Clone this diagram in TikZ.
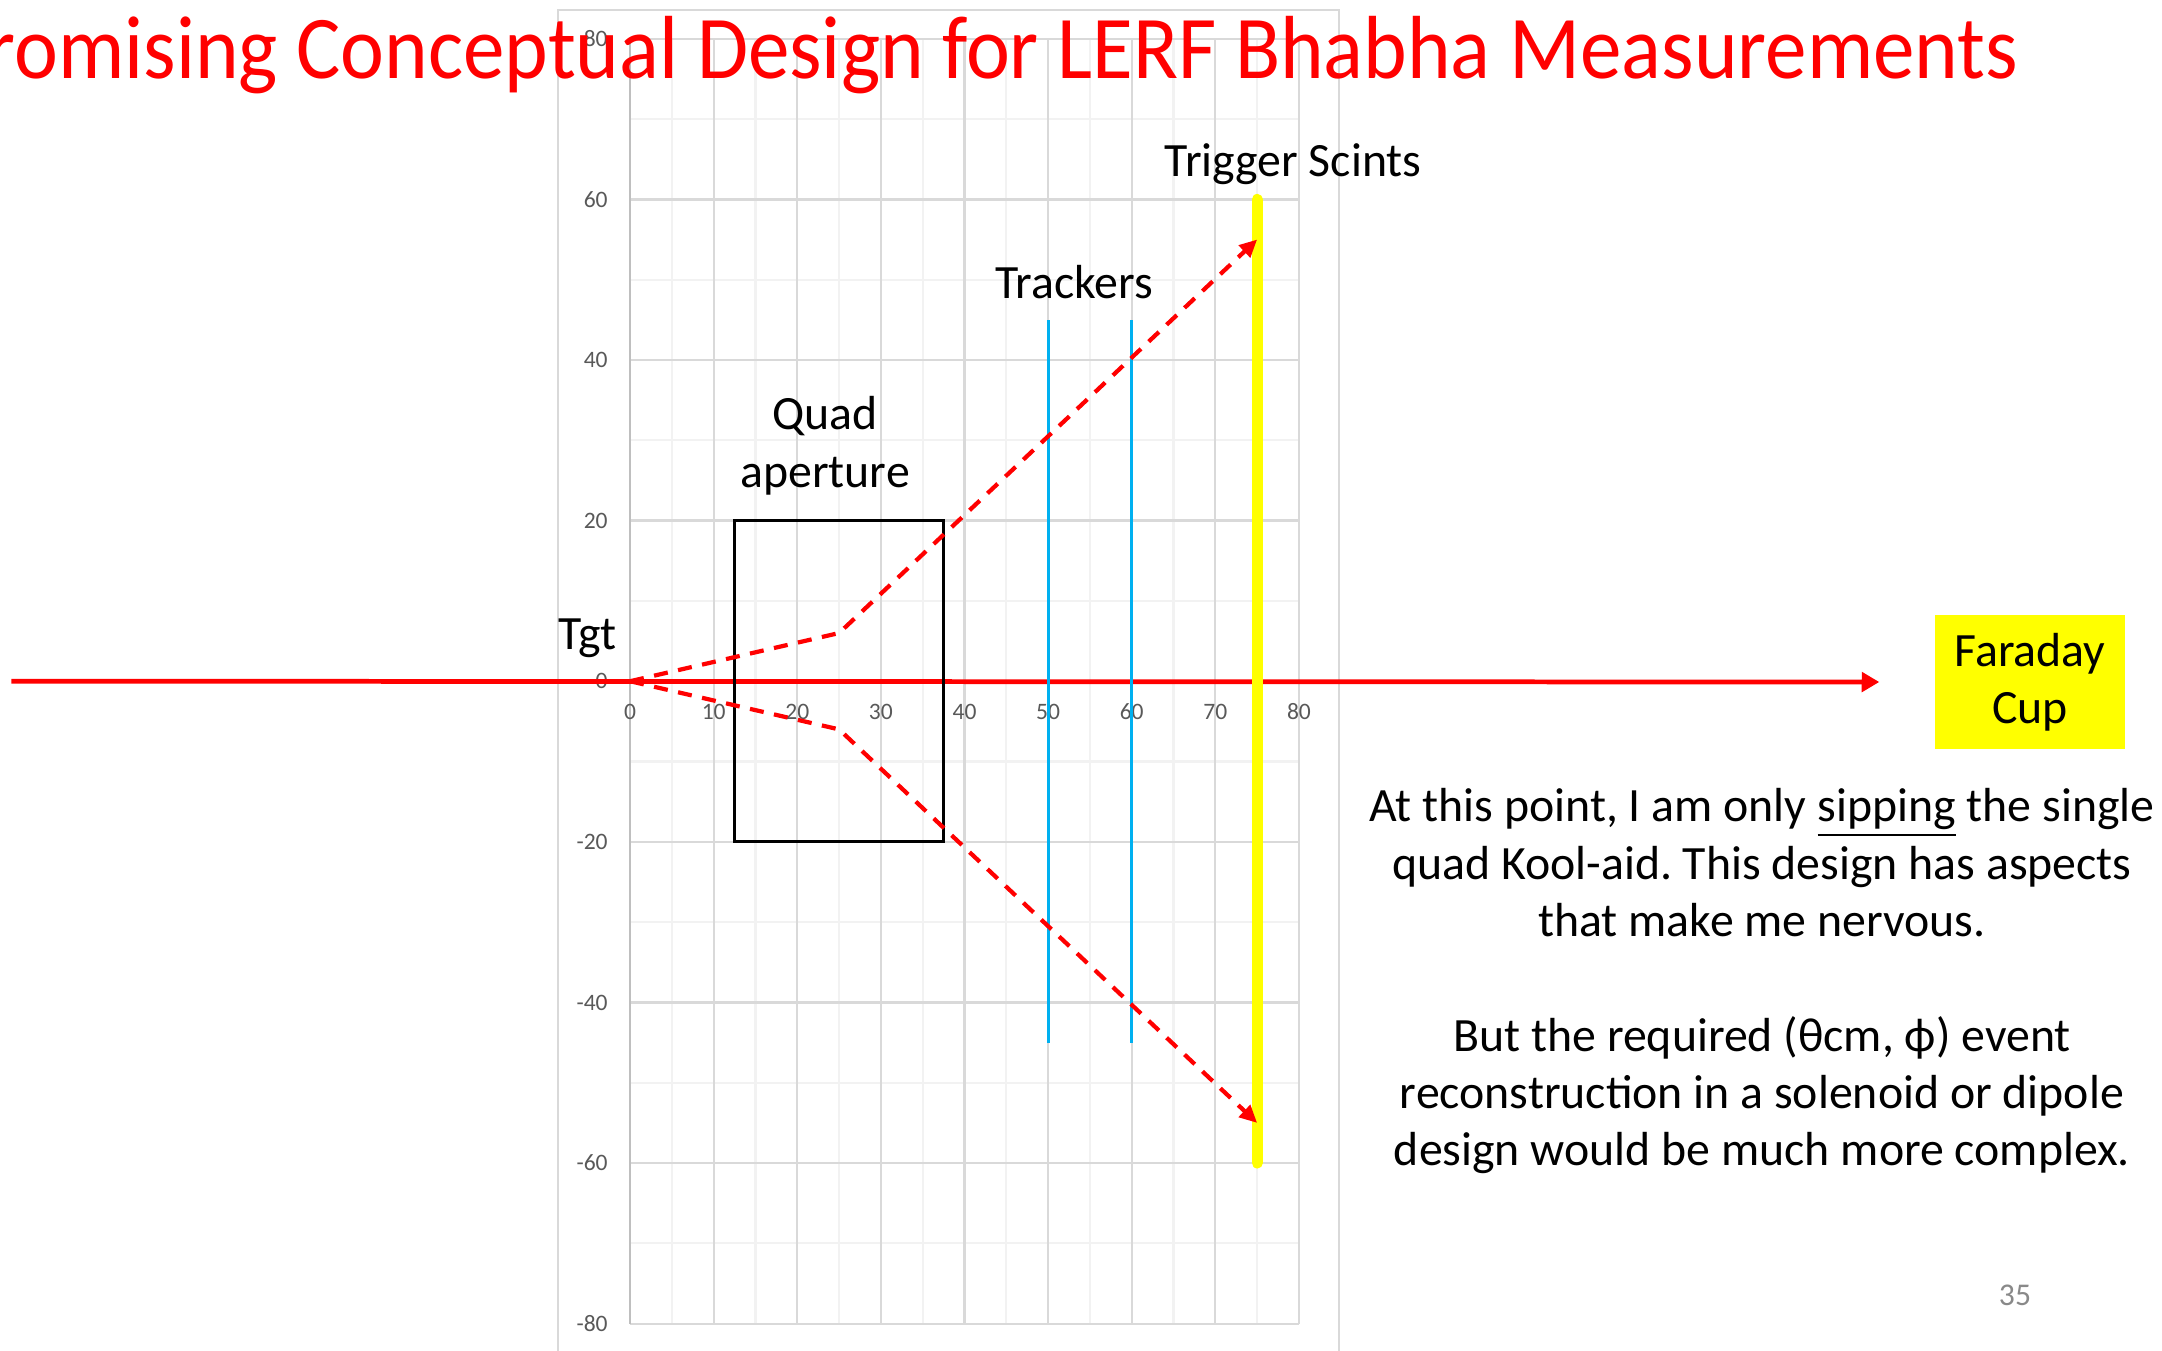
\documentclass[tikz,border=0pt]{standalone}
\usepackage{fontspec}
\setmainfont{Carlito}
\usetikzlibrary{arrows.meta,positioning}

\definecolor{pptred}{HTML}{FF0000}
\definecolor{pptyellow}{HTML}{FFFF00}
\definecolor{trkblue}{HTML}{00B0F0}
\definecolor{gridmaj}{HTML}{D9D9D9}
\definecolor{gridmin}{HTML}{F2F2F2}
\definecolor{axisgray}{HTML}{BFBFBF}
\definecolor{ticktext}{HTML}{595959}
\definecolor{pagenum}{HTML}{898989}

\tikzset{
  lbl/.style={font=\fontsize{13.6}{16.3}\selectfont, inner sep=0pt, align=center},
  ticklbl/.style={font=\fontsize{6.7}{7}\selectfont, text=ticktext, inner sep=0pt},
  minorgrid/.style={gridmin, line width=0.6pt},
  majorgrid/.style={gridmaj, line width=0.65pt},
  chartframe/.style={gridmaj, line width=0.55pt},
  beam/.style={pptred, line width=1.35pt, -{Triangle[length=5pt,width=5.5pt]}},
  traj/.style={pptred, line width=1.2pt, dash pattern=on 4pt off 3pt, -{Triangle[length=5pt,width=4.6pt]}},
  quadbox/.style={black, line width=0.9pt},
  tracker/.style={trkblue, line width=0.85pt},
  scint/.style={pptyellow, line width=3.1pt, line cap=round},
  fcbox/.style={lbl, fill=pptyellow, minimum width=1.9cm, minimum height=1.34cm}
}

\begin{document}
\frenchspacing
\begin{tikzpicture}
      \useasboundingbox[fill=white] (0,0) rectangle (21.62,-13.5);
      \draw[chartframe] (5.58,-0.1) rectangle (13.39,-14);

      \begin{scope}[shift={(6.301,-6.812)}, x=0.0836cm, y=0.0803cm]
        \foreach \gx in {5,15,...,75} \draw[minorgrid] (\gx,-80) -- (\gx,80);
        \foreach \gy in {-70,-50,...,70} \draw[minorgrid] (0,\gy) -- (80,\gy);
        \foreach \gx in {10,20,...,80} \draw[majorgrid] (\gx,-80) -- (\gx,80);
        \foreach \gy in {-80,-60,...,80} \draw[majorgrid] (0,\gy) -- (80,\gy);
        \draw[axisgray, line width=0.65pt] (0,-80) -- (0,80);

        \foreach \gx in {0,10,...,80} \node[ticklbl] (xt-\gx) at (\gx,-3.8) {\gx};
        \foreach \gy in {-80,-60,...,80} \node[ticklbl, anchor=east] (yt-\gy) at (-2.6,\gy) {\gy};

        \coordinate (tgt) at (0,0);
        \coordinate (kink-up) at (25,6);
        \coordinate (kink-dn) at (25,-6);
        \coordinate (hit-up) at (75,55);
        \coordinate (hit-dn) at (75,-55);
        \coordinate (quad-top) at (25,20);
        \coordinate (beam-in) at (-74,0);
      \end{scope}

      \node[fcbox] (fc-box) at (20.30,-6.82) {Faraday\\Cup};
      \draw[beam] (beam-in) -- ([xshift=-0.55cm]fc-box.west);

      \begin{scope}[shift={(6.301,-6.812)}, x=0.0836cm, y=0.0803cm]
        \draw[quadbox] (12.5,-20) rectangle (37.5,20);
        \foreach \tz in {50,60} \draw[tracker] (\tz,-45) -- (\tz,45);
        \draw[scint] (75,-60) -- (75,60);
        \draw[traj] (tgt) -- (kink-up) -- (hit-up);
        \draw[traj] (tgt) -- (kink-dn) -- (hit-dn);

        \node[lbl, anchor=base] (tgt-lbl) at (-5.1,3.9) {Tgt};
        \node[lbl, anchor=base] (trk-lbl) at (53.1,47.6) {Trackers};
        \node[lbl, anchor=base] (trig-lbl) at (79.3,62.9) {Trigger Scints};
      \end{scope}
      \node[lbl, above=0.25cm of quad-top, xshift=-0.14cm] (quad-lbl) {Quad\\aperture};

      \node[lbl, anchor=north] (note) at (17.62,-7.88)
        {At this point, I am only \underline{sipping} the single\\quad Kool-aid. This design has aspects\\that make me nervous.\\[16.3pt]But the required (θcm, ϕ) event\\reconstruction in a solenoid or dipole\\design would be much more complex.};

      \node[anchor=base west, inner sep=0pt, text=pptred, font=\fontsize{25.5}{30}\selectfont] (title) at (-0.14,-0.785)
        {\scalebox{0.927}[1]{romising Conceptual Design for LERF Bhabha Measurements}};
      \node[anchor=base, inner sep=0pt, text=pagenum, font=\fontsize{9}{10}\selectfont] (page-no) at (20.15,-13.05) {35};
\end{tikzpicture}
\end{document}
